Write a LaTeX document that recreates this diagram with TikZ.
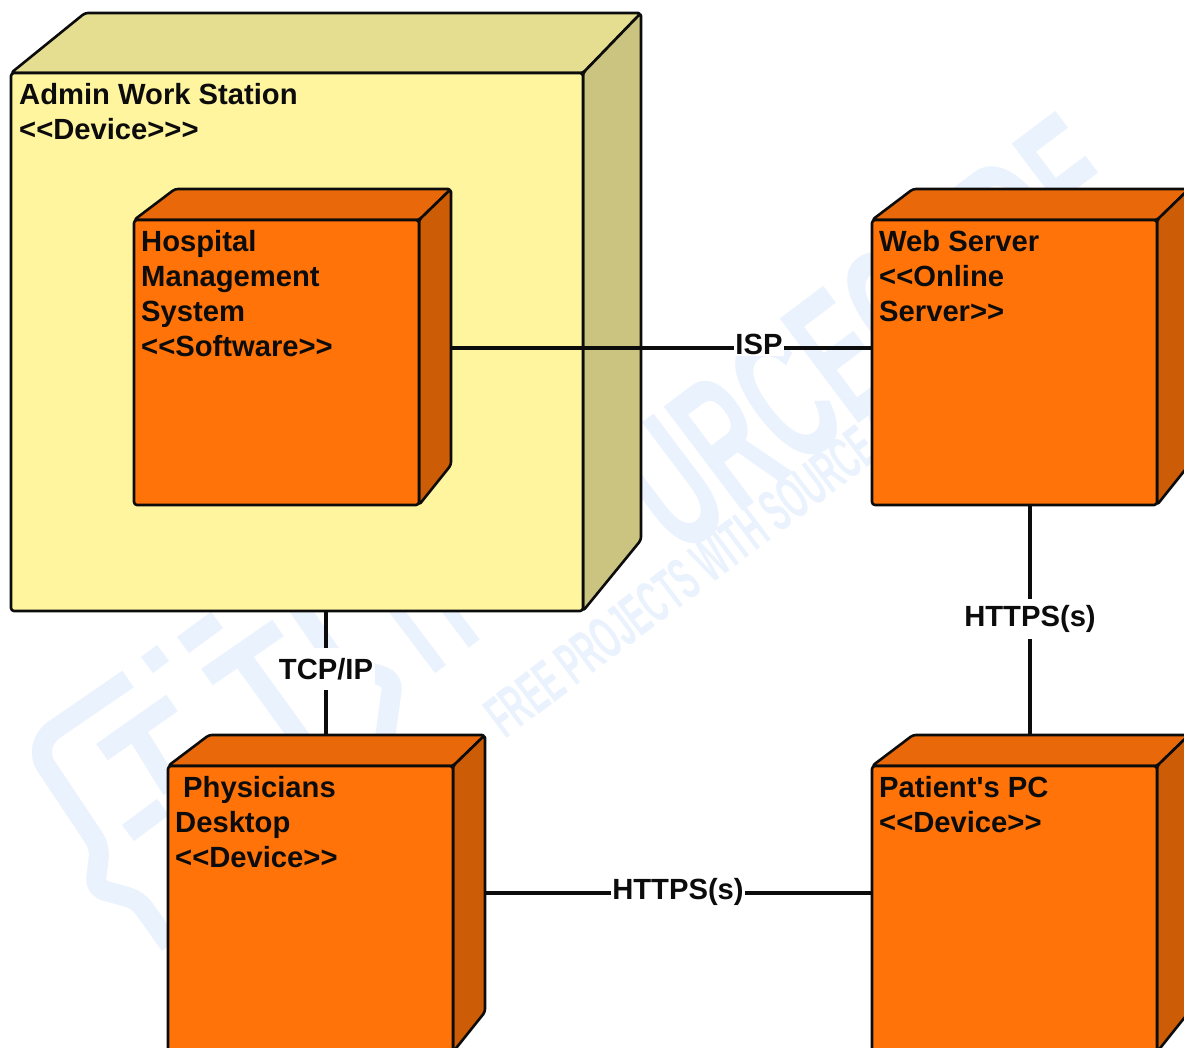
\documentclass[tikz,border=0pt]{standalone}
\usepackage{fontspec}
\setmainfont{Liberation Sans}
\definecolor{wm}{HTML}{E9F2FD}
\definecolor{ink}{HTML}{0C0C0C}
\definecolor{afront}{HTML}{FFF59F}
\definecolor{atop}{HTML}{E5DD90}
\definecolor{aside}{HTML}{CBC480}
\definecolor{ofront}{HTML}{FF7308}
\definecolor{otop}{HTML}{E8680A}
\definecolor{oside}{HTML}{CC5C06}
\tikzset{
  edge/.style={draw=ink,line width=2.6pt,line join=round,rounded corners=3pt},
  face/.style={edge,anchor=north west,inner sep=0pt,outer sep=0pt,rectangle},
  nodetext/.style={anchor=north west,inner sep=0pt,align=left,text=ink,font=\fontsize{29.2}{35}\selectfont\bfseries},
  conn/.style={draw=ink,line width=3.2pt},
  connlabel/.style={fill=white,inner sep=1.5pt,text=ink,font=\fontsize{29.2}{35}\selectfont\bfseries},
  wmline/.style={draw=wm,line width=20pt,line join=round,line cap=butt,rounded corners=10pt},
  wmtext/.style={rotate=37,text=wm,anchor=base west,inner sep=0pt},
}
\begin{document}
\begin{tikzpicture}[x=1pt,y=-1pt]
\useasboundingbox (0,0) rectangle (1184,1048);
\clip (0,0) rectangle (1184,1048);
\fill[white] (0,0) rectangle (1184,1048);
% watermark
\node[wmtext,font=\fontsize{190}{190}\selectfont\bfseries] (wmbig) at (679,559) {\scalebox{0.53}[1]{URCECODE}};
\node[wmtext,font=\fontsize{190}{190}\selectfont\bfseries] (wmit) at (430,678) {\scalebox{0.5}[1]{IT}};
\node[wmtext,font=\fontsize{60}{60}\selectfont\bfseries] (wmsmall) at (505,740) {\scalebox{0.5}[1]{FREE PROJECTS WITH SOURCE CODE}};
\draw[wmline] (128,679) -- (45,736) -- (40,757) -- (100,847) -- (95,888) -- (138,900) -- (170,945);
\draw[wmline] (102,752) -- (172,703);
\draw[wmline] (135,730) -- (172,790);
\draw[wmline] (128,833) -- (163,807);
\draw[wmline] (147,665) -- (163,653);
\draw[wmline] (183,645) -- (217,620);
\draw[wmline] (207,677) -- (278,628);
\draw[wmline] (240,655) -- (305,745);
\draw[wmline] (297,605) -- (335,660) -- (393,680) -- (385,738);
% Admin
\coordinate (aA) at (11,73); \coordinate (aB) at (85,13); \coordinate (aC) at (641,13);
\coordinate (aD) at (583,73); \coordinate (aE) at (641,540); \coordinate (aF) at (583,611);
\path[edge,fill=atop] (aA) -- (aB) -- (aC) -- (aD) -- cycle;
\path[edge,fill=aside] (aD) -- (aC) -- (aE) -- (aF) -- cycle;
\node[face,fill=afront,minimum width=572pt,minimum height=538pt] (admin) at (11,73) {};
\node[nodetext] (adminT) at (19,83) {Admin Work Station\\<{}<Device>{}>{}>};
% Hospital
\coordinate (hA) at (134,220); \coordinate (hB) at (175,189); \coordinate (hC) at (451,189);
\coordinate (hD) at (419,220); \coordinate (hE) at (451,465); \coordinate (hF) at (419,505);
\path[edge,fill=otop] (hA) -- (hB) -- (hC) -- (hD) -- cycle;
\path[edge,fill=oside] (hD) -- (hC) -- (hE) -- (hF) -- cycle;
\node[face,fill=ofront,minimum width=285pt,minimum height=285pt] (hms) at (134,220) {};
\node[nodetext] (hmsT) at (141,230) {Hospital\\Management\\System\\<{}<Software>{}>};
% Web server
\coordinate (wA) at (872,220); \coordinate (wB) at (913,189); \coordinate (wC) at (1189,189);
\coordinate (wD) at (1157,220); \coordinate (wE) at (1189,465); \coordinate (wF) at (1157,505);
\path[edge,fill=otop] (wA) -- (wB) -- (wC) -- (wD) -- cycle;
\path[edge,fill=oside] (wD) -- (wC) -- (wE) -- (wF) -- cycle;
\node[face,fill=ofront,minimum width=285pt,minimum height=285pt] (web) at (872,220) {};
\node[nodetext] (webT) at (879,230) {Web Server\\<{}<Online\\Server>{}>};
% Physicians desktop
\coordinate (pA) at (168,766); \coordinate (pB) at (209,735); \coordinate (pC) at (485,735);
\coordinate (pD) at (453,766); \coordinate (pE) at (485,1012); \coordinate (pF) at (453,1052);
\path[edge,fill=otop] (pA) -- (pB) -- (pC) -- (pD) -- cycle;
\path[edge,fill=oside] (pD) -- (pC) -- (pE) -- (pF) -- cycle;
\node[face,fill=ofront,minimum width=285pt,minimum height=300pt] (phys) at (168,766) {};
\node[nodetext] (physT) at (175,776) {\hspace*{8pt}Physicians\\Desktop\\<{}<Device>{}>};
% Patient PC
\coordinate (qA) at (872,766); \coordinate (qB) at (913,735); \coordinate (qC) at (1189,735);
\coordinate (qD) at (1157,766); \coordinate (qE) at (1189,1012); \coordinate (qF) at (1157,1052);
\path[edge,fill=otop] (qA) -- (qB) -- (qC) -- (qD) -- cycle;
\path[edge,fill=oside] (qD) -- (qC) -- (qE) -- (qF) -- cycle;
\node[face,fill=ofront,minimum width=285pt,minimum height=300pt] (pc) at (872,766) {};
\node[nodetext] (pcT) at (879,776) {Patient\textquotesingle s PC\\<{}<Device>{}>};
% connectors
\coordinate (hmsR) at (451,348); \coordinate (webL) at (872,348);
\coordinate (admB) at (326,611); \coordinate (physTop) at (326,735);
\coordinate (webB) at (1030,505); \coordinate (pcTop) at (1030,735);
\coordinate (physR) at (485,893); \coordinate (pcL) at (872,893);
\draw[conn] (hmsR) -- (webL);
\draw[conn] (admB) -- (physTop);
\draw[conn] (webB) -- (pcTop);
\draw[conn] (physR) -- (pcL);
\node[connlabel] (lisp) at (759,344) {ISP};
\node[connlabel,minimum height=42pt] (ltcp) at (326,669) {TCP/IP};
\node[connlabel,minimum height=40pt] (lh1) at (1030,619) {HTTPS(s)};
\node[connlabel] (lh2) at (678,892) {HTTPS(s)};
\end{tikzpicture}
\end{document}
